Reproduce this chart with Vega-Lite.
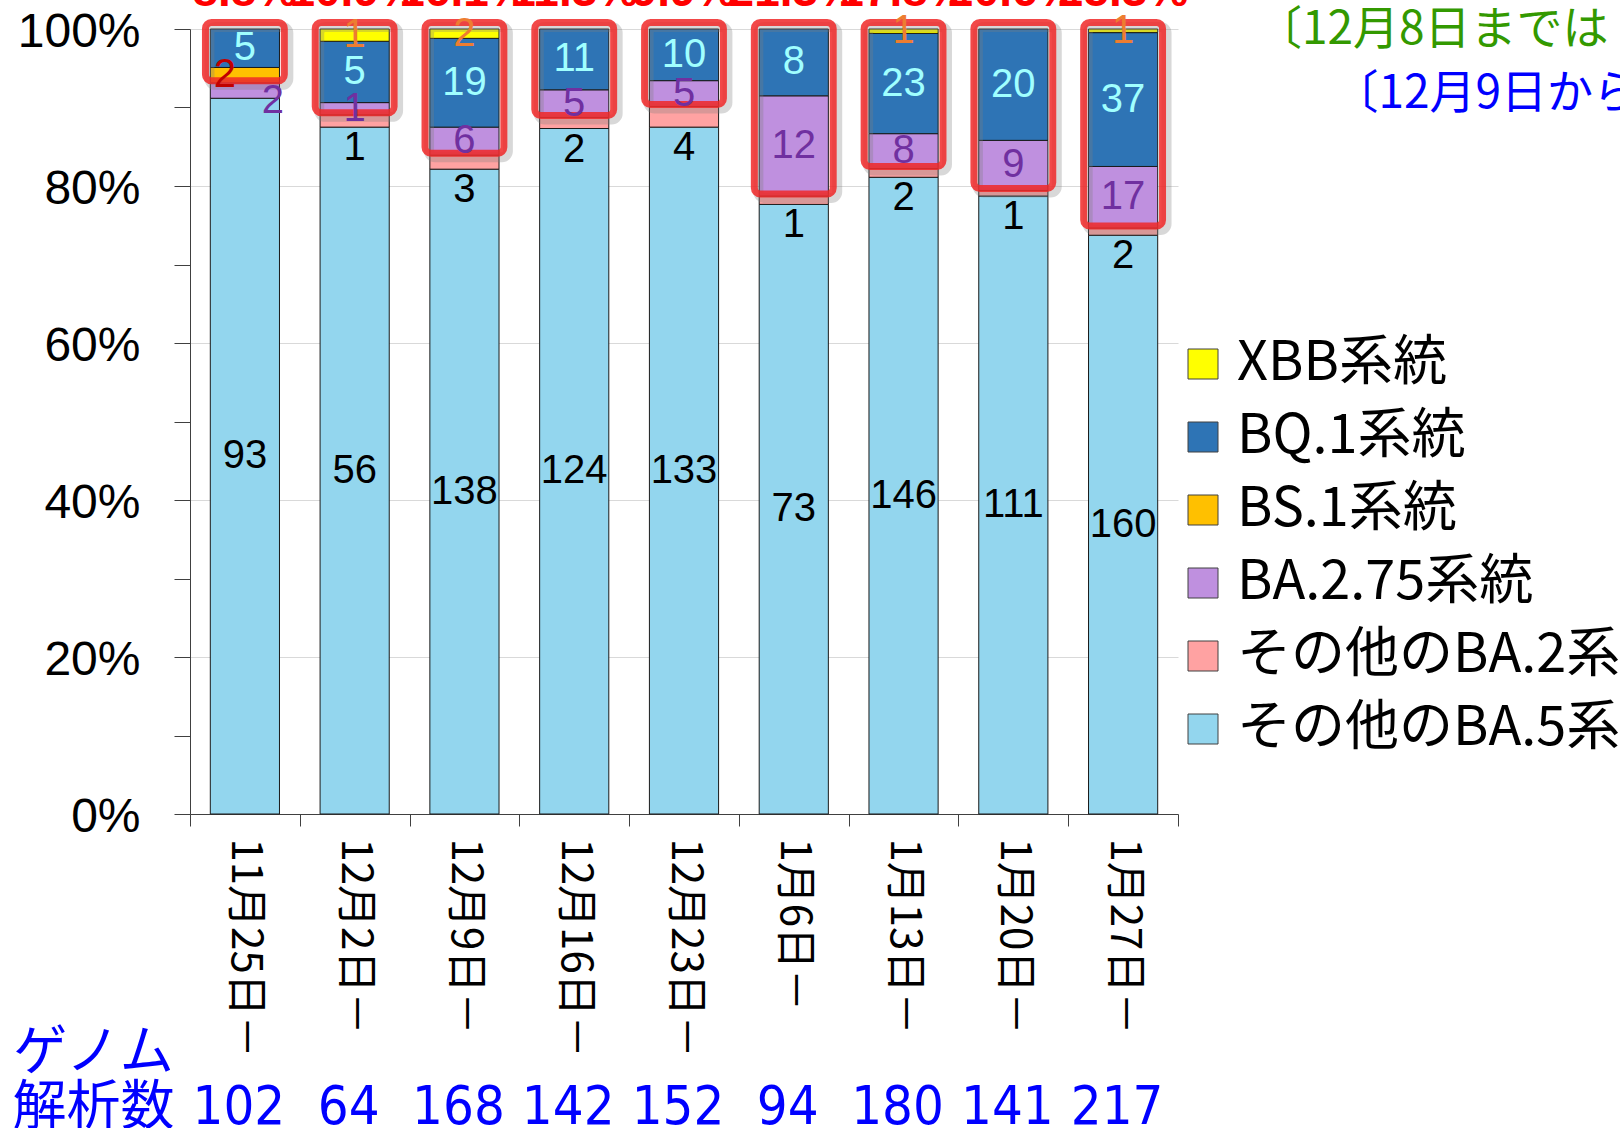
{
  "$schema": "https://vega.github.io/schema/vega-lite/v6.json",
  "width": 988,
  "height": 785,
  "autosize": {"type": "none"},
  "padding": {"left": 190, "top": 29, "right": 442, "bottom": 314},
  "background": "white",
  "title": {
    "text": "〔12月8日までは",
    "anchor": "start",
    "orient": "top",
    "frame": "group",
    "dx": 1066,
    "dy": 89,
    "font": "Noto Sans CJK JP",
    "fontSize": 46,
    "fontWeight": "normal",
    "color": "#339900"
  },
  "datasets": {
    "counts": [
      {"date": "11月25日－", "type": "その他のBA.5系統", "n": 93},
      {"date": "11月25日－", "type": "BA.2.75系統", "n": 2},
      {"date": "11月25日－", "type": "BS.1系統", "n": 2},
      {"date": "11月25日－", "type": "BQ.1系統", "n": 5},
      {"date": "12月2日－", "type": "その他のBA.5系統", "n": 56},
      {"date": "12月2日－", "type": "その他のBA.2系統", "n": 1},
      {"date": "12月2日－", "type": "BA.2.75系統", "n": 1},
      {"date": "12月2日－", "type": "BQ.1系統", "n": 5},
      {"date": "12月2日－", "type": "XBB系統", "n": 1},
      {"date": "12月9日－", "type": "その他のBA.5系統", "n": 138},
      {"date": "12月9日－", "type": "その他のBA.2系統", "n": 3},
      {"date": "12月9日－", "type": "BA.2.75系統", "n": 6},
      {"date": "12月9日－", "type": "BQ.1系統", "n": 19},
      {"date": "12月9日－", "type": "XBB系統", "n": 2},
      {"date": "12月16日－", "type": "その他のBA.5系統", "n": 124},
      {"date": "12月16日－", "type": "その他のBA.2系統", "n": 2},
      {"date": "12月16日－", "type": "BA.2.75系統", "n": 5},
      {"date": "12月16日－", "type": "BQ.1系統", "n": 11},
      {"date": "12月23日－", "type": "その他のBA.5系統", "n": 133},
      {"date": "12月23日－", "type": "その他のBA.2系統", "n": 4},
      {"date": "12月23日－", "type": "BA.2.75系統", "n": 5},
      {"date": "12月23日－", "type": "BQ.1系統", "n": 10},
      {"date": "1月6日－", "type": "その他のBA.5系統", "n": 73},
      {"date": "1月6日－", "type": "その他のBA.2系統", "n": 1},
      {"date": "1月6日－", "type": "BA.2.75系統", "n": 12},
      {"date": "1月6日－", "type": "BQ.1系統", "n": 8},
      {"date": "1月13日－", "type": "その他のBA.5系統", "n": 146},
      {"date": "1月13日－", "type": "その他のBA.2系統", "n": 2},
      {"date": "1月13日－", "type": "BA.2.75系統", "n": 8},
      {"date": "1月13日－", "type": "BQ.1系統", "n": 23},
      {"date": "1月13日－", "type": "XBB系統", "n": 1},
      {"date": "1月20日－", "type": "その他のBA.5系統", "n": 111},
      {"date": "1月20日－", "type": "その他のBA.2系統", "n": 1},
      {"date": "1月20日－", "type": "BA.2.75系統", "n": 9},
      {"date": "1月20日－", "type": "BQ.1系統", "n": 20},
      {"date": "1月27日－", "type": "その他のBA.5系統", "n": 160},
      {"date": "1月27日－", "type": "その他のBA.2系統", "n": 2},
      {"date": "1月27日－", "type": "BA.2.75系統", "n": 17},
      {"date": "1月27日－", "type": "BQ.1系統", "n": 37},
      {"date": "1月27日－", "type": "XBB系統", "n": 1}
    ],
    "summary": [
      {"date": "11月25日－", "total": 102, "share": 0.088},
      {"date": "12月2日－", "total": 64, "share": 0.109},
      {"date": "12月9日－", "total": 168, "share": 0.161},
      {"date": "12月16日－", "total": 142, "share": 0.113},
      {"date": "12月23日－", "total": 152, "share": 0.099},
      {"date": "1月6日－", "total": 94, "share": 0.213},
      {"date": "1月13日－", "total": 180, "share": 0.178},
      {"date": "1月20日－", "total": 141, "share": 0.206},
      {"date": "1月27日－", "total": 217, "share": 0.253}
    ]
  },
  "layer": [
    {
      "data": {"name": "counts"},
      "transform": [
        {"calculate": "indexof(['その他のBA.5系統','その他のBA.2系統','BA.2.75系統','BS.1系統','BQ.1系統','XBB系統'], datum.type)", "as": "ord"},
        {"stack": "n", "groupby": ["date"], "sort": [{"field": "ord", "order": "ascending"}], "offset": "normalize", "as": ["s0", "s1"]},
        {"calculate": "(datum.s0 + datum.s1) / 2", "as": "mid"}
      ],
      "layer": [
        {
          "mark": {"type": "bar", "stroke": "#1a1a1a", "strokeWidth": 1},
          "encoding": {
            "x": {
              "field": "date", "type": "nominal", "sort": null,
              "scale": {"paddingInner": 0.37, "paddingOuter": 0.185},
              "axis": {
                "title": "〔12月9日から",
                "titleX": 1142,
                "titleY": -721,
                "titleAngle": 0,
                "titleAlign": "left",
                "titleBaseline": "middle",
                "titleFont": "Noto Sans CJK JP",
                "titleFontSize": 46,
                "titleFontWeight": "normal",
                "titleColor": "#0000FF",
                "labelAngle": 90,
                "labelAlign": "left",
                "labelBaseline": "middle",
                "labelFont": "Noto Sans CJK JP",
                "labelFontSize": 42,
                "labelColor": "#000000",
                "labelPadding": 12,
                "labelLimit": 1000,
                "bandPosition": 1.587,
                "tickOffset": -20.3,
                "tickExtra": true,
                "labelOffset": 20.3,
                "tickSize": 12,
                "tickColor": "#404040",
                "domainColor": "#404040",
                "grid": false
              }
            },
            "y": {
              "field": "s0", "type": "quantitative",
              "scale": {"domain": [0, 1], "nice": false},
              "axis": {
                "title": ["ゲノム", "解析数"],
                "titleAngle": 0,
                "titleAlign": "center",
                "titleBaseline": "alphabetic",
                "titleX": -97,
                "titleY": 1040,
                "titleFont": "Noto Sans CJK JP",
                "titleFontSize": 54,
                "titleFontWeight": "normal",
                "titleColor": "#0000FF",
                "titleLineHeight": 55,
                "values": [0, 0.1, 0.2, 0.3, 0.4, 0.5, 0.6, 0.7, 0.8, 0.9, 1],
                "format": ".0%",
                "labelExpr": "round(datum.value * 10) % 2 == 0 ? datum.label : ''",
                "labelFont": "Liberation Sans",
                "labelFontSize": 48,
                "labelColor": "#000000",
                "labelPadding": 34,
                "labelOffset": 3,
                "tickSize": 16,
                "tickColor": "#404040",
                "domainColor": "#404040",
                "grid": true,
                "gridColor": "#d9d9d9",
                "gridWidth": 1,
                "gridOpacity": {"condition": {"test": "round(datum.value * 10) % 2 == 0", "value": 1}, "value": 0}
              }
            },
            "y2": {"field": "s1"},
            "fill": {
              "field": "type", "type": "nominal",
              "scale": {
                "domain": ["XBB系統", "BQ.1系統", "BS.1系統", "BA.2.75系統", "その他のBA.2系統", "その他のBA.5系統"],
                "range": ["#FFFF00", "#2E74B5", "#FFC000", "#BF90DF", "#FFA2A2", "#93D6EE"]
              },
              "legend": {
                "title": null,
                "orient": "none",
                "legendX": 986,
                "legendY": 308,
                "symbolType": "square",
                "symbolSize": 900,
                "symbolStrokeColor": "#404040",
                "symbolStrokeWidth": 1,
                "symbolOpacity": 1,
                "labelFont": "Noto Sans CJK JP",
                "labelFontSize": 54,
                "labelColor": "#000000",
                "labelOffset": 7,
                "labelLimit": 1000,
                "rowPadding": 19
              }
            }
          }
        },
        {
          "transform": [
            {"filter": "indexof(['BA.2.75系統','BS.1系統','BQ.1系統','XBB系統'], datum.type) >= 0 && !(datum.date == '11月25日－' && datum.type == 'BA.2.75系統')"},
            {"aggregate": [{"op": "min", "field": "s0", "as": "lo"}], "groupby": ["date"]}
          ],
          "mark": {"type": "bar", "fillOpacity": 0, "stroke": "#7f7f7f", "strokeOpacity": 0.3, "strokeWidth": 10, "cornerRadius": 6, "width": {"band": 1.14}, "xOffset": 4, "yOffset": 2, "y2Offset": -2},
          "encoding": {
            "x": {"field": "date", "type": "nominal", "sort": null},
            "y": {"field": "lo", "type": "quantitative"},
            "y2": {"datum": 1}
          }
        },
        {
          "transform": [
            {"filter": "indexof(['BA.2.75系統','BS.1系統','BQ.1系統','XBB系統'], datum.type) >= 0 && !(datum.date == '11月25日－' && datum.type == 'BA.2.75系統')"},
            {"aggregate": [{"op": "min", "field": "s0", "as": "lo"}], "groupby": ["date"]}
          ],
          "mark": {"type": "bar", "fillOpacity": 0, "stroke": "#F02828", "strokeOpacity": 0.85, "strokeWidth": 7, "cornerRadius": 6, "width": {"band": 1.14}, "yOffset": -2, "y2Offset": -6.5},
          "encoding": {
            "x": {"field": "date", "type": "nominal", "sort": null},
            "y": {"field": "lo", "type": "quantitative"},
            "y2": {"datum": 1}
          }
        },
        {
          "transform": [
            {"filter": "datum.type != 'その他のBA.2系統' && !(datum.date == '11月25日－' && (datum.type == 'BA.2.75系統' || datum.type == 'BS.1系統'))"}
          ],
          "mark": {"type": "text", "font": "Liberation Sans", "fontSize": 40, "baseline": "middle", "align": "center"},
          "encoding": {
            "x": {"field": "date", "type": "nominal", "sort": null},
            "y": {"field": "mid", "type": "quantitative"},
            "text": {"field": "n", "type": "quantitative"},
            "color": {
              "field": "type", "type": "nominal",
              "scale": {
                "domain": ["XBB系統", "BQ.1系統", "BS.1系統", "BA.2.75系統", "その他のBA.2系統", "その他のBA.5系統"],
                "range": ["#ED7D31", "#A0FFFF", "#C00000", "#7030A0", "#000000", "#000000"]
              },
              "legend": null
            }
          }
        },
        {
          "transform": [{"filter": "datum.type == 'その他のBA.2系統'"}],
          "mark": {"type": "text", "font": "Liberation Sans", "fontSize": 40, "baseline": "top", "align": "center", "dy": 1, "color": "#000000"},
          "encoding": {
            "x": {"field": "date", "type": "nominal", "sort": null},
            "y": {"field": "s0", "type": "quantitative"},
            "text": {"field": "n", "type": "quantitative"}
          }
        },
        {
          "transform": [{"filter": "datum.date == '11月25日－' && datum.type == 'BA.2.75系統'"}],
          "mark": {"type": "text", "font": "Liberation Sans", "fontSize": 40, "baseline": "middle", "align": "center", "dx": 28, "dy": 10, "color": "#7030A0"},
          "encoding": {
            "x": {"field": "date", "type": "nominal", "sort": null},
            "y": {"field": "mid", "type": "quantitative"},
            "text": {"field": "n", "type": "quantitative"}
          }
        },
        {
          "transform": [{"filter": "datum.date == '11月25日－' && datum.type == 'BS.1系統'"}],
          "mark": {"type": "text", "font": "Liberation Sans", "fontSize": 40, "baseline": "middle", "align": "center", "dx": -20, "dy": 0, "color": "#C00000"},
          "encoding": {
            "x": {"field": "date", "type": "nominal", "sort": null},
            "y": {"field": "mid", "type": "quantitative"},
            "text": {"field": "n", "type": "quantitative"}
          }
        }
      ]
    },
    {
      "data": {"name": "summary"},
      "layer": [
        {
          "mark": {"type": "text", "font": "Liberation Sans", "fontSize": 46, "fontWeight": "bold", "baseline": "alphabetic", "align": "center", "dy": -23, "color": "#FF0000"},
          "encoding": {
            "x": {"field": "date", "type": "nominal", "sort": null},
            "y": {"datum": 1},
            "text": {"field": "share", "type": "quantitative", "format": ".1%"}
          }
        },
        {
          "mark": {"type": "text", "font": "DejaVu Sans Condensed, Noto Sans CJK JP, sans-serif", "fontSize": 54, "baseline": "alphabetic", "align": "center", "dy": 310, "dx": -6, "color": "#0000FF"},
          "encoding": {
            "x": {"field": "date", "type": "nominal", "sort": null},
            "y": {"datum": 0},
            "text": {"field": "total", "type": "quantitative"}
          }
        }
      ]
    }
  ],
  "config": {
    "view": {"stroke": null}
  }
}
